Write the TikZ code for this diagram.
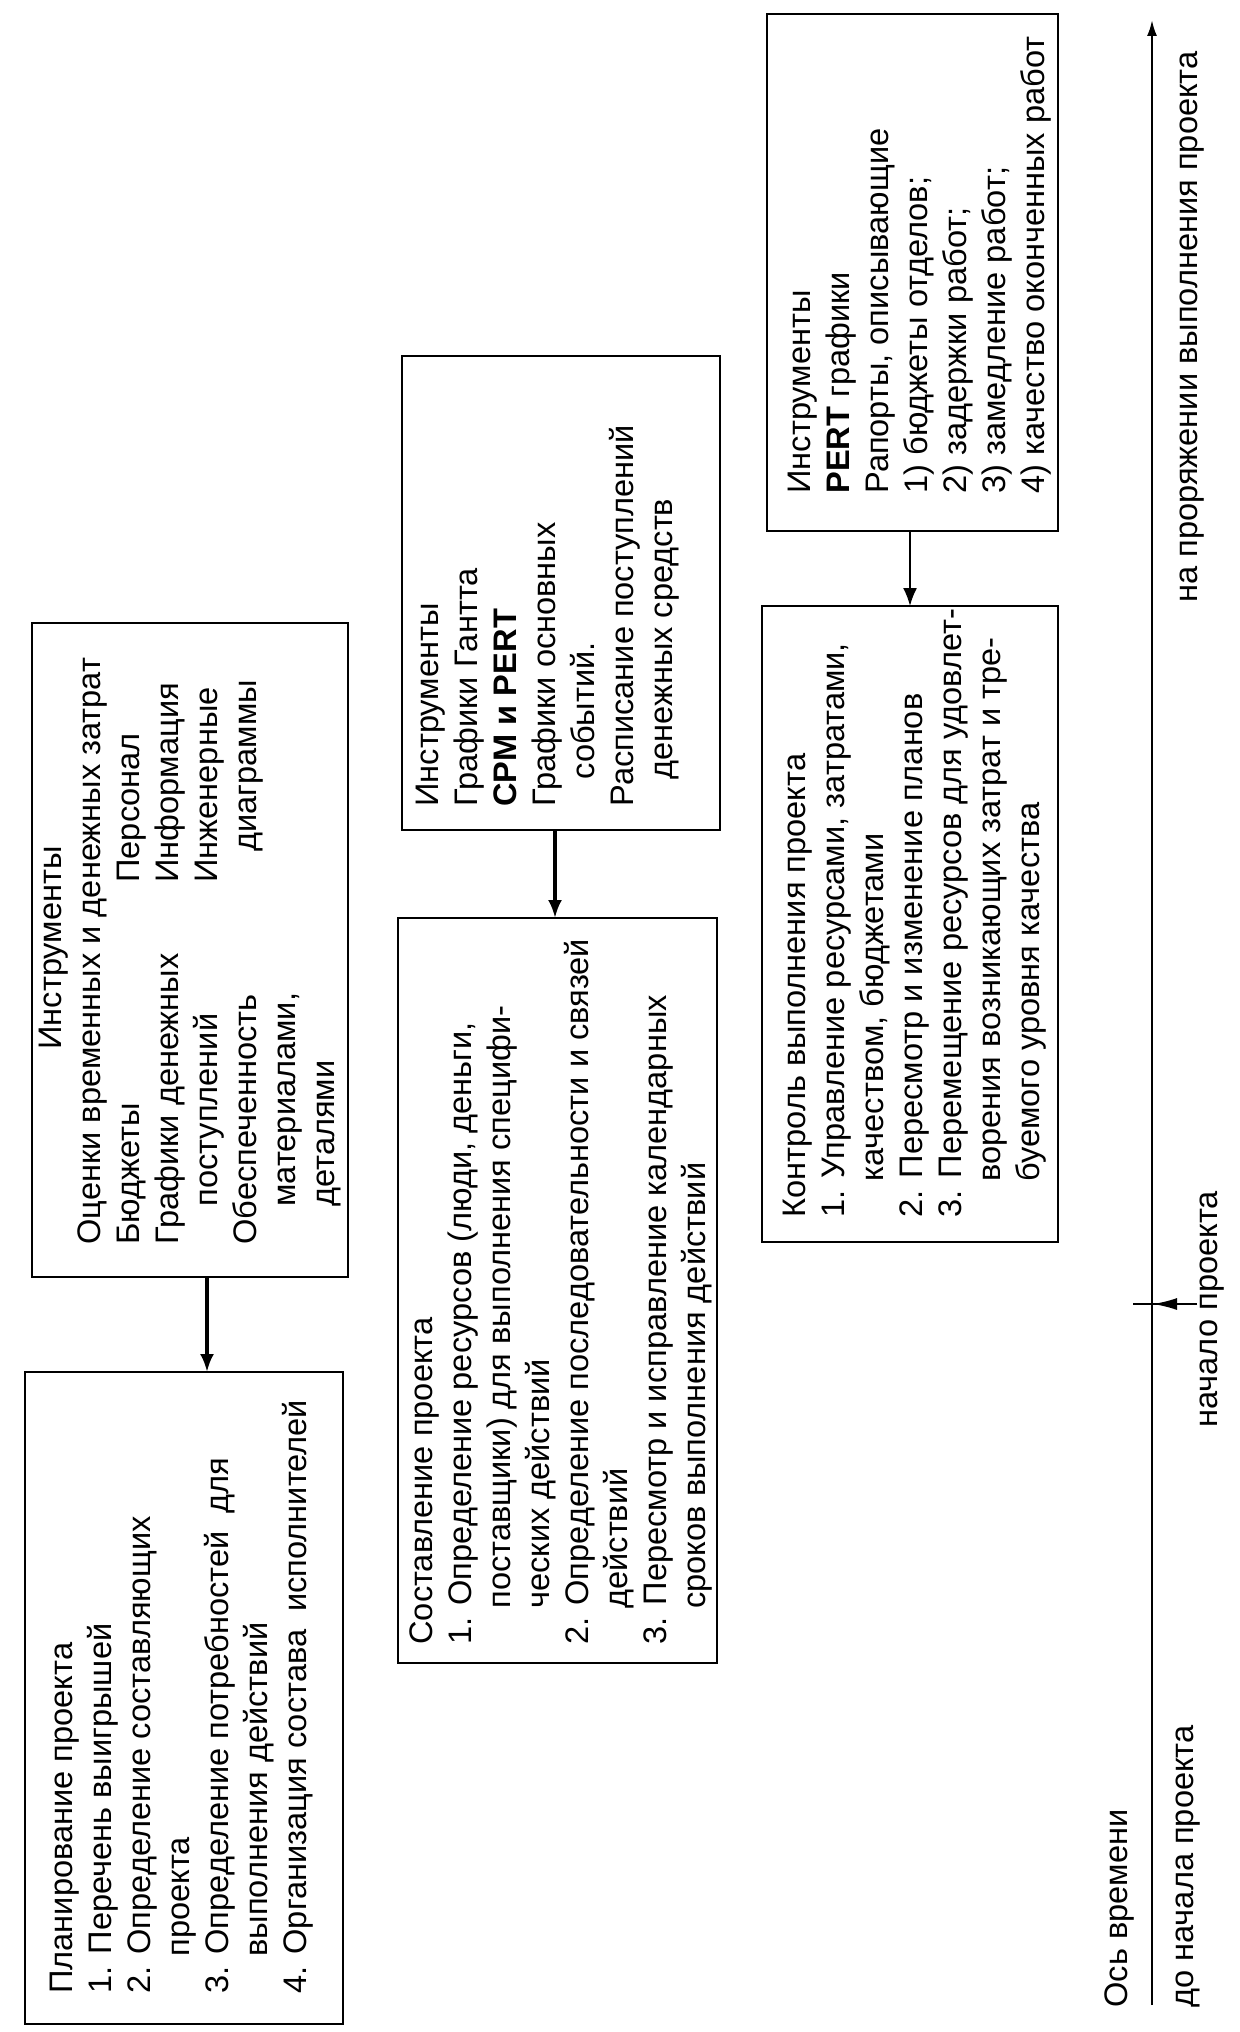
\documentclass[tikz,border=0pt]{standalone}
\usepackage{fontspec}
\setmainfont{Liberation Sans}
\usetikzlibrary{arrows.meta}
\newcommand\fnt{\fontsize{16.3}{19.5}\selectfont}
\newcommand\sr{\rule{0pt}{16pt}}
\begin{document}
\begin{tikzpicture}[x=0.5pt,y=-0.5pt,
  box/.style={draw, line width=1.2pt, inner sep=0pt, outer sep=0pt},
  txt/.style={rotate=90, anchor=north west, inner sep=0pt, align=left, font=\fnt},
  lbl/.style={rotate=90, anchor=base west, inner sep=0pt, font=\fnt},
  thickarrow/.style={line width=1.7pt, -{Latex[length=9pt,width=7pt]}},
  thinarrow/.style={line width=0.9pt, -{Latex[length=9pt,width=7pt]}},
]
\fill[white] (0,0) rectangle (1240,2032);
\useasboundingbox (0,0) rectangle (1240,2032);

% boxes
\node[box, minimum width=159pt, minimum height=326pt] (A) at (184,1698) {};
\node[box, minimum width=158pt, minimum height=327pt] (B) at (190,950) {};
\node[box, minimum width=159.5pt, minimum height=372.5pt] (C) at (557.5,1290.5) {};
\node[box, minimum width=159pt, minimum height=237pt] (D) at (561,593) {};
\node[box, minimum width=148pt, minimum height=318pt] (E) at (910,924) {};
\node[box, minimum width=145.5pt, minimum height=258.5pt] (F) at (912.5,272.5) {};

% texts
\node[txt] (tA) at (40,1994) {\sr Планирование проекта\\
1. Перечень выигрышей\\
2. Определение составляющих\\
\hspace*{18.5pt}проекта\\
3. Определение потребностей\ \ для\\
\hspace*{18.5pt}выполнения действий\\
4. Организация состава\ \ исполнителей};

\node[txt] (tB) at (29,1245) {\sr\hspace*{97.5pt}Инструменты\\
Оценки временных и денежных затрат\\
\makebox[181pt][l]{Бюджеты}Персонал\\
\makebox[181pt][l]{Графики денежных}Информация\\
\makebox[181pt][l]{\hspace*{19pt}поступлений}Инженерные\\
\makebox[181pt][l]{Обеспеченность}\hspace*{15.5pt}диаграммы\\
\hspace*{19pt}материалами,\\
\hspace*{19pt}деталями};

\node[txt] (tC) at (400,1645) {\sr Составление проекта\\
1. Определение ресурсов (люди, деньги,\\
\hspace*{18pt}поставщики) для выполнения специфи-\\
\hspace*{18pt}ческих действий\\
2. Определение последовательности и связей\\
\hspace*{18pt}действий\\
3. Пересмотр и исправление календарных\\
\hspace*{18pt}сроков выполнения действий};

\node[txt] (tD) at (406,807) {\sr Инструменты\\
Графики Гантта\\
\textbf{CPM и PERT}\\
Графики основных\\
\hspace*{13.5pt}событий.\\
Расписание поступлений\\
\hspace*{13.5pt}денежных средств};

\node[txt] (tE) at (773,1218) {\sr Контроль выполнения проекта\\
1. Управление ресурсами, затратами,\\
\hspace*{18pt}качеством, бюджетами\\
2. Пересмотр и изменение планов\\
3. Перемещение ресурсов для удовлет-\\
\hspace*{18pt}ворения возникающих затрат и тре-\\
\hspace*{18pt}буемого уровня качества};

\node[txt] (tF) at (778,494) {\sr Инструменты\\
\textbf{PERT} графики\\
Рапорты, описывающие\\
1) бюджеты отделов;\\
2) задержки работ;\\
3) замедление работ;\\
4) качество оконченных работ};

% arrows between boxes
\coordinate (xAB) at (207,0);
\coordinate (xCD) at (555,0);
\coordinate (xEF) at (910,0);
\draw[thickarrow] (B.south -| xAB) -- (A.north -| xAB);
\draw[thickarrow] (D.south -| xCD) -- (C.north -| xCD);
\draw[thinarrow] (F.south -| xEF) -- (E.north -| xEF);

% time axis
\coordinate (axB) at (1152,2005);
\coordinate (axT) at (1152,20);
\draw[line width=1.1pt, -{Latex[length=8pt,width=5pt]}] (axB) -- (axT);
\coordinate (tkL) at (1133,1304);
\coordinate (tkR) at (1197,1304);
\coordinate (tkM) at (1153,1304);
\draw[line width=0.8pt] (tkL) -- (tkR);
\draw[line width=0.8pt, -{Latex[length=12pt,width=6pt]}] (tkR) -- (tkM);

% axis labels
\node[lbl] (lOs) at (1127,2008) {Ось времени};
\node[lbl] (lDo) at (1193,2008) {до начала проекта};
\node[lbl] (lNach) at (1217,1428) {начало проекта};
\node[lbl] (lNa) at (1197,603) {на проряжении выполнения проекта};
\end{tikzpicture}
\end{document}
